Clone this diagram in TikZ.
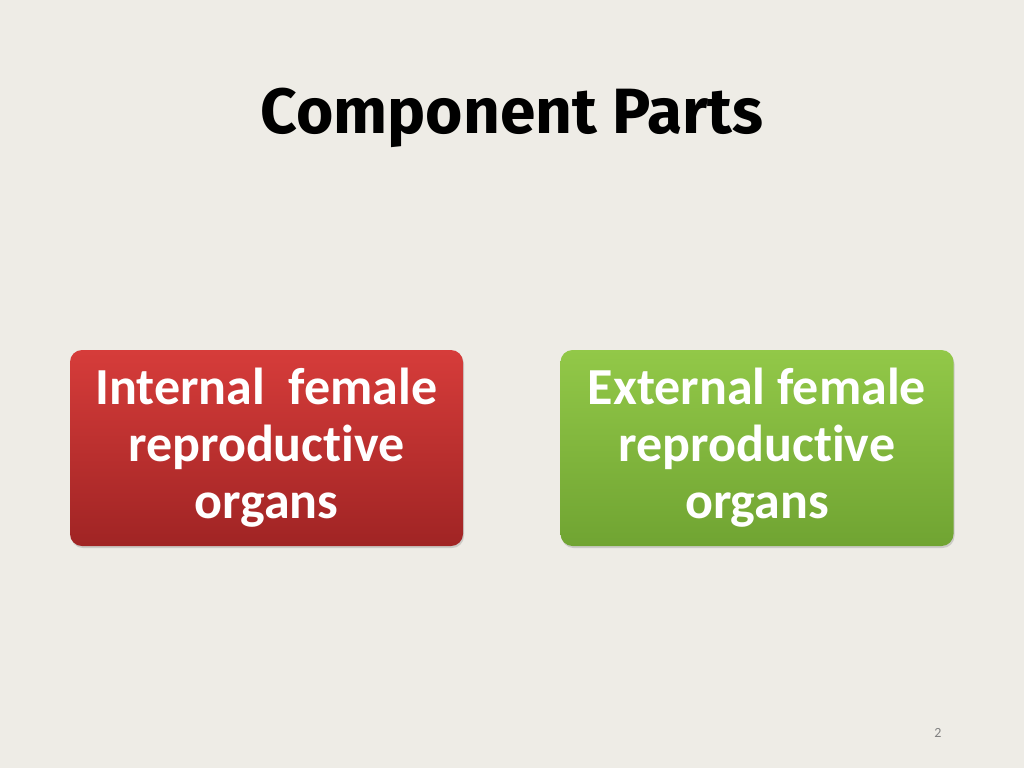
\documentclass[tikz,border=0pt]{standalone}
\usepackage{fontspec}
\setmainfont{Carlito}[RawFeature={-liga}]
\newfontfamily\titlefont{Fira Sans}
\usetikzlibrary{shadows}
\begin{document}
\begin{tikzpicture}[x=1pt,y=-1pt,
  box/.style={rounded corners=12pt,minimum width=393pt,minimum height=196pt,align=center,text=white,font=\fontsize{52}{57}\selectfont\bfseries,drop shadow={opacity=0.3,shadow xshift=1pt,shadow yshift=-2pt}}]
\fill[color={rgb,255:red,238;green,236;blue,230}] (0,0) rectangle (1024,768);
\useasboundingbox (0,0) rectangle (1024,768);
\node[font=\titlefont\fontsize{64}{70}\selectfont\bfseries] (title) at (512,118) {Component Parts};
\node[box,top color={rgb,255:red,214;green,60;blue,58},bottom color={rgb,255:red,160;green,36;blue,36}] (int) at (266.5,448) {Internal\ \ female\\reproductive\\organs};
\node[box,top color={rgb,255:red,146;green,200;blue,72},bottom color={rgb,255:red,112;green,164;blue,50}] (ext) at (757,448) {External female\\reproductive\\organs};
\node[text=gray,font=\fontsize{14}{15}\selectfont] (pg) at (938,733) {2};
\end{tikzpicture}
\end{document}
